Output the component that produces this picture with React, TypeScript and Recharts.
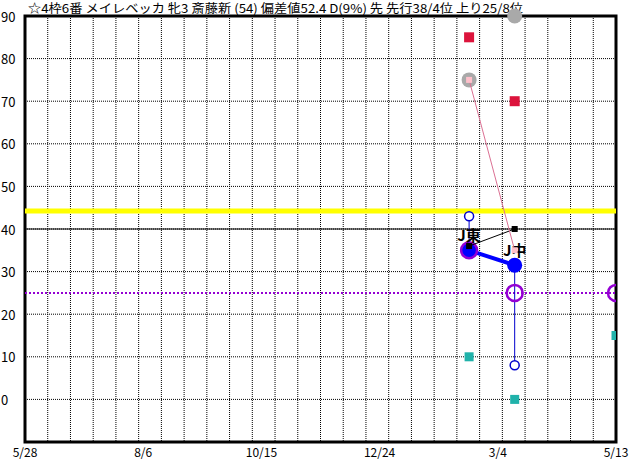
import React from "react";
import {
  ComposedChart,
  Scatter,
  XAxis,
  YAxis,
  CartesianGrid,
  ReferenceLine,
  ReferenceArea,
} from "recharts";

// days counted from 5/28
const tickDays = [0, 70, 140, 210, 280, 350];
const tickLabels = ["5/28", "8/6", "10/15", "12/24", "3/4", "5/13"];
const yTicks = [0, 10, 20, 30, 40, 50, 60, 70, 80, 90];

const raceDays = [263, 290, 350];
const courseLabels = ["J東", "J中"];

const redValues = [85, 70];
const grayValues = [75, 90];
const pinkValues = [75, 35];
const blackValues = [36, 40];
const blueValues = [35, 31.5];
const blueOpenValues = [43, 8];
const purpleValues = [35, 25, 25];
const tealValues = [10, 0, 15];

const yellowLevel = 44.2;
const blackLevel = 40;
const purpleLevel = 25;

const title =
  "☆4枠6番 メイレベッカ 牝3 斎藤新 (54) 偏差値52.4 D(9%) 先 先行38/4位 上り25/8位";

const toPoints = (vals: number[]) =>
  vals.map((v, i) => ({ x: raceDays[i], y: v }));

const FONT = "'Noto Sans CJK JP', sans-serif";

const square = (size: number, fill: string) => (p: any) =>
  (
    <rect
      x={p.cx - size / 2}
      y={p.cy - size / 2}
      width={size}
      height={size}
      fill={fill}
    />
  );

const circle = (r: number, fill: string, stroke = "none", sw = 0) => (p: any) =>
  <circle cx={p.cx} cy={p.cy} r={r} fill={fill} stroke={stroke} strokeWidth={sw} />;

const YTick = (p: any) => (
  <text x={1} y={p.y} dominantBaseline="central" fontSize={13} fontFamily={FONT} fill="#000">
    {p.payload.value}
  </text>
);

const XTick = (p: any) => (
  <text
    x={p.x}
    y={p.y + 1}
    textAnchor="middle"
    dominantBaseline="central"
    fontSize={12}
    fontFamily={FONT}
    fill="#000"
  >
    {tickLabels[tickDays.indexOf(p.payload.value)]}
  </text>
);

function App() {
  const labelData = courseLabels.map((l, i) => ({ x: raceDays[i], y: blueValues[i], label: l }));
  return (
    <div style={{ position: "absolute", left: 0, top: 0, width: 632, height: 460, background: "#fff" }}>
      <ComposedChart
        width={632}
        height={460}
        margin={{ top: 16, right: 16, left: 0, bottom: 0 }}
      >
        <text
          x={28}
          y={7}
          dominantBaseline="central"
          fontSize={12}
          fontFamily={FONT}
          textLength={495}
          lengthAdjust="spacingAndGlyphs"
        >
          {title}
        </text>
        <CartesianGrid
          stroke="#000"
          strokeDasharray="1 1"
          verticalCoordinatesGenerator={({ offset }: any) =>
            Array.from({ length: 27 }, (_, i) => offset.left + (offset.width * i) / 26)
          }
        />
        <XAxis
          type="number"
          dataKey="x"
          domain={[0, 350]}
          ticks={tickDays}
          axisLine={false}
          tickLine={false}
          height={18}
          tick={<XTick />}
          allowDataOverflow
        />
        <YAxis
          type="number"
          dataKey="y"
          domain={[-10, 90]}
          ticks={yTicks}
          axisLine={false}
          tickLine={false}
          width={25}
          tick={<YTick />}
        />
        <ReferenceLine y={yellowLevel} stroke="#FFFF00" strokeWidth={5} />
        <ReferenceLine y={blackLevel} stroke="#000" strokeWidth={1} />
        <ReferenceLine y={purpleLevel} stroke="#9400D3" strokeWidth={2} strokeDasharray="2 2" />
        <ReferenceArea x1={0} x2={350} y1={-10} y2={90} fill="none" stroke="#000" strokeWidth={3} />

        <Scatter data={toPoints(tealValues)} shape={square(9, "#20B2AA")} isAnimationActive={false} />
        <Scatter data={toPoints(redValues)} shape={square(10, "#DC143C")} isAnimationActive={false} />
        <Scatter data={toPoints(grayValues)} shape={circle(7.5, "#A9A9A9")} isAnimationActive={false} />
        {blueOpenValues.map((v, i) => (
          <Scatter
            key={i}
            data={[
              { x: raceDays[i], y: blueValues[i] },
              { x: raceDays[i], y: v },
            ]}
            line={{ stroke: "#0000CD", strokeWidth: 1 }}
            shape={() => <g />}
            isAnimationActive={false}
          />
        ))}
        <Scatter
          data={toPoints(blueOpenValues)}
          shape={circle(4.5, "#fff", "#0000CD", 1.5)}
          isAnimationActive={false}
        />
        <Scatter
          data={toPoints(blueValues)}
          line={{ stroke: "#0000FF", strokeWidth: 4 }}
          shape={circle(7.5, "#0000FF")}
          isAnimationActive={false}
        />
        <Scatter
          data={toPoints(purpleValues)}
          shape={circle(8, "none", "#9400D3", 2.5)}
          isAnimationActive={false}
        />
        <Scatter
          data={toPoints(blackValues)}
          line={{ stroke: "#000", strokeWidth: 1 }}
          shape={square(6, "#000")}
          isAnimationActive={false}
        />
        <Scatter
          data={labelData}
          shape={(p: any) => (
            <text
              x={p.cx}
              y={p.cy - 16}
              textAnchor="middle"
              dominantBaseline="central"
              fontSize={15}
              fontWeight="bold"
              fontFamily={FONT}
              fill="#000"
            >
              {p.payload.label}
            </text>
          )}
          isAnimationActive={false}
        />
        <Scatter
          data={toPoints(pinkValues)}
          line={{ stroke: "#DB7093", strokeWidth: 1 }}
          shape={square(6, "#FFC0CB")}
          isAnimationActive={false}
        />
      </ComposedChart>
    </div>
  );
}

export default App;
